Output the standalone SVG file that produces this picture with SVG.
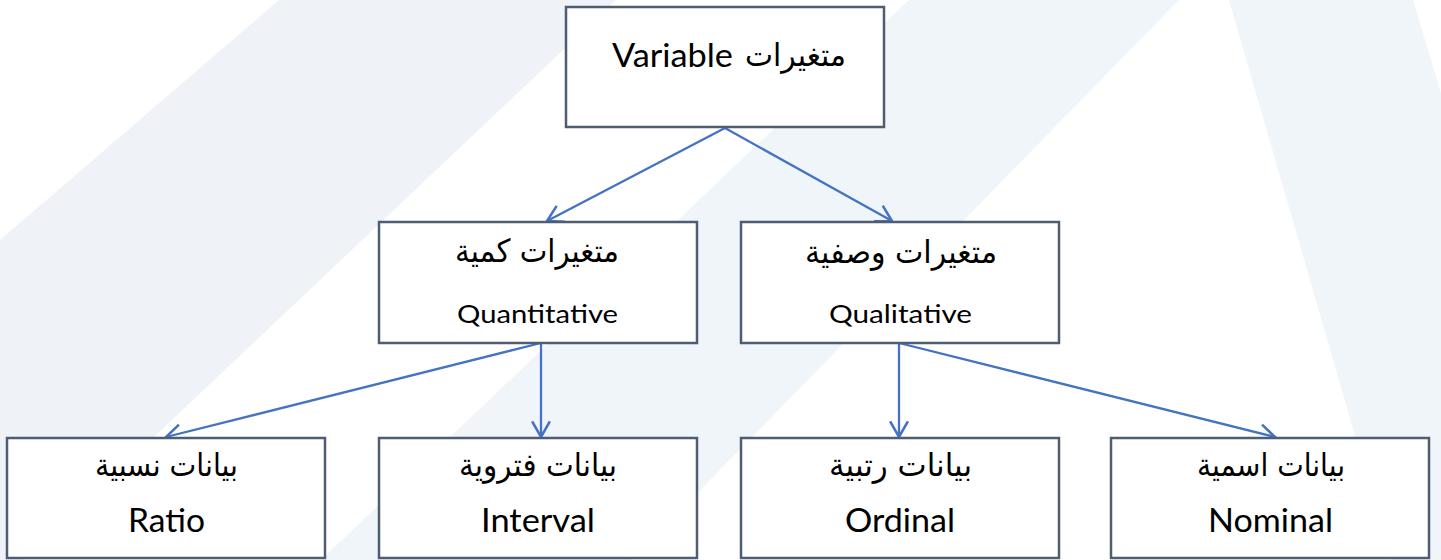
<svg xmlns="http://www.w3.org/2000/svg" width="1441" height="560" viewBox="0 0 1441 560">
<style>
.box{fill:#ffffff;stroke:#4f5d72;stroke-width:2.5}
.en{font-family:Lato,"Open Sans",sans-serif;fill:#000;text-anchor:middle}
.ar{font-family:"DejaVu Sans",sans-serif;fill:#000;text-anchor:middle}
.big{font-size:32px}
.mid{font-size:25px}
.arb{font-size:32px}
.conn{stroke:#4472c4;stroke-width:2.3;fill:none;marker-end:url(#arr)}
</style>
<defs>
<marker id="arr" markerUnits="userSpaceOnUse" markerWidth="20" markerHeight="20" viewBox="-15 -9 17 18" refX="0" refY="0" orient="auto">
<path d="M-14,-8 L0,0 L-14,8" fill="none" stroke="#4472c4" stroke-width="2.3"/>
</marker>
</defs>
<rect width="1441" height="560" fill="#ffffff"/>
<g id="background">
<polygon points="279,0 616,0 24,560 0,560 0,240" fill="#eff3f7"/>
<polygon points="909,0 1179,0 632,560 321,560" fill="#f0f5fa"/>
<polygon points="1229,0 1413,0 1441,93 1441,560 1391,560" fill="#f0f5fa"/>
</g>
<g id="connectors">
<line class="conn" x1="725" y1="128" x2="547" y2="221"/>
<line class="conn" x1="725" y1="128" x2="892" y2="221"/>
<line class="conn" x1="541" y1="343" x2="166" y2="437"/>
<line class="conn" x1="541" y1="343" x2="541" y2="437"/>
<line class="conn" x1="899" y1="343" x2="899" y2="437"/>
<line class="conn" x1="899" y1="343" x2="1275" y2="437"/>
</g>
<g id="node-variable">
<rect class="box" x="566" y="7" width="318" height="120"/>
<text class="en big" x="672.5" y="67" textLength="121" lengthAdjust="spacingAndGlyphs">Variable</text>
<text class="ar arb" x="795.5" y="66" textLength="101" lengthAdjust="spacingAndGlyphs">متغيرات</text>
</g>
<g id="node-quantitative">
<rect class="box" x="379" y="222" width="318" height="121"/>
<text class="ar arb" x="537" y="262" textLength="164" lengthAdjust="spacingAndGlyphs">متغيرات كمية</text>
<text class="en mid" x="537.5" y="323" textLength="161" lengthAdjust="spacingAndGlyphs">Quantitative</text>
</g>
<g id="node-qualitative">
<rect class="box" x="741" y="222" width="318" height="121"/>
<text class="ar arb" x="901" y="263" textLength="192" lengthAdjust="spacingAndGlyphs">متغيرات وصفية</text>
<text class="en mid" x="900.5" y="323" textLength="143" lengthAdjust="spacingAndGlyphs">Qualitative</text>
</g>
<g id="node-ratio">
<rect class="box" x="7" y="438" width="318" height="120"/>
<text class="ar arb" x="166.5" y="476" textLength="143" lengthAdjust="spacingAndGlyphs">بيانات نسبية</text>
<text class="en big" x="166.5" y="532" textLength="77" lengthAdjust="spacingAndGlyphs">Ratio</text>
</g>
<g id="node-interval">
<rect class="box" x="379" y="438" width="318" height="120"/>
<text class="ar arb" x="538" y="476" textLength="158" lengthAdjust="spacingAndGlyphs">بيانات فتروية</text>
<text class="en big" x="538" y="532" textLength="114" lengthAdjust="spacingAndGlyphs">Interval</text>
</g>
<g id="node-ordinal">
<rect class="box" x="741" y="438" width="318" height="120"/>
<text class="ar arb" x="900.5" y="476" textLength="143" lengthAdjust="spacingAndGlyphs">بيانات رتبية</text>
<text class="en big" x="900" y="532" textLength="110" lengthAdjust="spacingAndGlyphs">Ordinal</text>
</g>
<g id="node-nominal">
<rect class="box" x="1111" y="438" width="318" height="120"/>
<text class="ar arb" x="1271" y="476" textLength="148" lengthAdjust="spacingAndGlyphs">بيانات اسمية</text>
<text class="en big" x="1270.5" y="532" textLength="125" lengthAdjust="spacingAndGlyphs">Nominal</text>
</g>
</svg>
